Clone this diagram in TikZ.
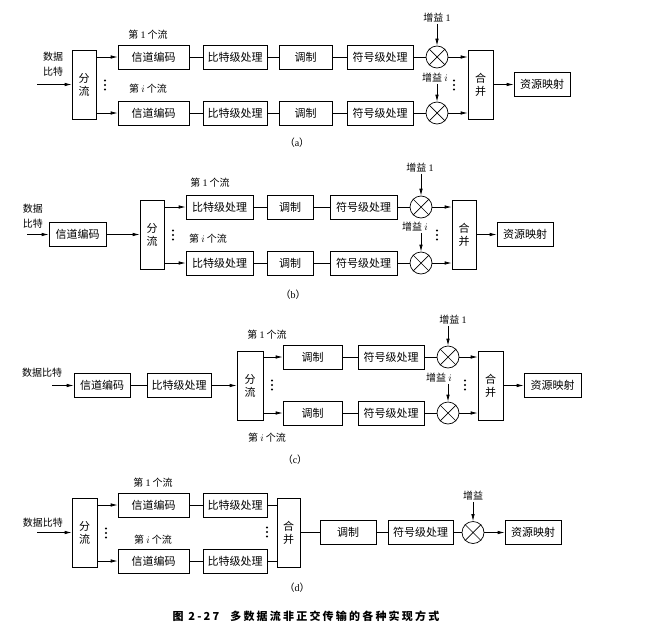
\documentclass[tikz,border=0pt]{standalone}
\usepackage{fontspec}
\setmainfont{Liberation Serif}
\newfontfamily\cjk{Noto Sans CJK SC}
\newfontfamily\cjkcap{Noto Sans CJK SC}[LetterSpace=20]
\usepackage{tikz}
\usetikzlibrary{arrows.meta,positioning}

\begin{document}
\begin{tikzpicture}[x=1pt, y=-1pt, line width=0.7pt, >={Latex[length=7pt,width=3.5pt]}]
    \useasboundingbox (0,0) rectangle (650,634);
    \tikzset{blk/.style={draw, inner sep=0pt, minimum height=24pt, font=\cjk\fontsize{11}{13}\selectfont}}
    \tikzset{tall/.style={draw, inner sep=0pt, minimum width=24pt, minimum height=69pt, align=center, font=\cjk\fontsize{11}{13}\selectfont}}
    \tikzset{mul/.style={circle, draw, inner sep=0pt, minimum size=22pt}}
    \tikzset{lbl/.style={inner sep=1pt, font=\cjk\fontsize{10}{15}\selectfont}}
    \def\tridots#1{\fill (#1) ++(0,-4.5) circle (1.1pt) (#1) circle (1.1pt) (#1) ++(0,4.5) circle (1.1pt);}

    % PANEL (a)
    \node[lbl, align=center] (inA) at (53,64.5) {数据\\比特};
    \coordinate (srcA) at (37,84.5);
    \node[tall] (splA) at (84,84.5) {分\\流};
    \node[tall, minimum width=25pt] (mrgA) at (480.5,84.5) {合\\并};
    \node[blk, minimum width=56pt] (resA) at (542,84.5) {资源映射};
    \foreach \k/\y in {1/57, 2/113} {
        \node[blk, minimum width=71pt] (chA\k) at (153.5,\y) {信道编码};
        \node[blk, minimum width=64pt] (bitA\k) at (235,\y) {比特级处理};
        \node[blk, minimum width=53pt] (modA\k) at (305.5,\y) {调制};
        \node[blk, minimum width=66pt] (symA\k) at (380,\y) {符号级处理};
        \node[mul] (mulA\k) at (437,\y) {};
        \draw (mulA\k.45) -- (mulA\k.225) (mulA\k.135) -- (mulA\k.315);
        \draw[->] (splA.east |- chA\k) -- (chA\k);
        \draw (chA\k) -- (bitA\k) -- (modA\k) -- (symA\k) -- (mulA\k);
        \draw[->] (mulA\k) -- (mrgA.west |- mulA\k);
    }
    \draw[->] (srcA) -- (splA);
    \draw[->] (mrgA) -- (resA);
    \node[lbl] (s1A) at (148,35) {第 {\rmfamily 1} 个流};
    \node[lbl] (siA) at (148,89) {第 $i$ 个流};
    \node[lbl] (g1A) at (437,18) {增益 {\rmfamily 1}};
    \node[lbl] (giA) at (435,78) {增益 $i$};
    \draw[->] (g1A.south -| mulA1) -- (mulA1);
    \draw[->] (giA.south -| mulA2) -- (mulA2);
    \coordinate (vA1) at (105,85);
    \coordinate (vA2) at (454,85);
    \tridots{vA1} \tridots{vA2}
    \node[lbl] (capA) at (297,143) {（{\rmfamily a}）};

    % PANEL (b)
    \node[lbl, align=center] (inB) at (33,216) {数据\\比特};
    \coordinate (srcB) at (27,234.5);
    \node[blk, minimum width=57pt] (chB) at (77.5,234.5) {信道编码};
    \node[tall] (splB) at (152,234.5) {分\\流};
    \node[tall] (mrgB) at (464,234.5) {合\\并};
    \node[blk, minimum width=56pt] (resB) at (525,234.5) {资源映射};
    \foreach \k/\y in {1/207, 2/263} {
        \node[blk, minimum width=67pt] (bitB\k) at (219.5,\y) {比特级处理};
        \node[blk, minimum width=46pt] (modB\k) at (290,\y) {调制};
        \node[blk, minimum width=67pt] (symB\k) at (363.5,\y) {符号级处理};
        \node[mul] (mulB\k) at (421,\y) {};
        \draw (mulB\k.45) -- (mulB\k.225) (mulB\k.135) -- (mulB\k.315);
        \draw[->] (splB.east |- bitB\k) -- (bitB\k);
        \draw (bitB\k) -- (modB\k) -- (symB\k) -- (mulB\k);
        \draw[->] (mulB\k) -- (mrgB.west |- mulB\k);
    }
    \draw[->] (srcB) -- (chB);
    \draw[->] (chB) -- (splB);
    \draw[->] (mrgB) -- (resB);
    \node[lbl] (s1B) at (210,183) {第 {\rmfamily 1} 个流};
    \node[lbl] (siB) at (208,239) {第 $i$ 个流};
    \node[lbl] (g1B) at (420,168) {增益 {\rmfamily 1}};
    \node[lbl] (giB) at (415,227) {增益 $i$};
    \draw[->] (g1B.south -| mulB1) -- (mulB1);
    \draw[->] (giB.south -| mulB2) -- (mulB2);
    \coordinate (vB1) at (173,235);
    \coordinate (vB2) at (437,235);
    \tridots{vB1} \tridots{vB2}
    \node[lbl] (capB) at (293,295) {（{\rmfamily b}）};

    % PANEL (c)
    \node[lbl] (inC) at (42,373) {数据比特};
    \coordinate (srcC) at (52,385.5);
    \node[blk, minimum width=56pt] (chC) at (102,385.5) {信道编码};
    \node[blk, minimum width=64pt] (bitC) at (179,385.5) {比特级处理};
    \node[tall, minimum width=26pt] (splC) at (250,385.5) {分\\流};
    \node[tall, minimum width=25pt] (mrgC) at (490.5,385.5) {合\\并};
    \node[blk, minimum width=57pt] (resC) at (552.5,385.5) {资源映射};
    \foreach \k/\y in {1/357, 2/413} {
        \node[blk, minimum width=59pt] (modC\k) at (312.5,\y) {调制};
        \node[blk, minimum width=66pt] (symC\k) at (391,\y) {符号级处理};
        \node[mul] (mulC\k) at (448,\y) {};
        \draw (mulC\k.45) -- (mulC\k.225) (mulC\k.135) -- (mulC\k.315);
        \draw[->] (splC.east |- modC\k) -- (modC\k);
        \draw (modC\k) -- (symC\k) -- (mulC\k);
        \draw[->] (mulC\k) -- (mrgC.west |- mulC\k);
    }
    \draw[->] (srcC) -- (chC);
    \draw (chC) -- (bitC);
    \draw[->] (bitC) -- (splC);
    \draw[->] (mrgC) -- (resC);
    \node[lbl] (s1C) at (267,335) {第 {\rmfamily 1} 个流};
    \node[lbl] (siC) at (267,438) {第 $i$ 个流};
    \node[lbl] (g1C) at (453,320) {增益 {\rmfamily 1}};
    \node[lbl] (giC) at (439,378) {增益 $i$};
    \draw[->] (g1C.south -| mulC1) -- (mulC1);
    \draw[->] (giC.south -| mulC2) -- (mulC2);
    \coordinate (vC1) at (272,385);
    \coordinate (vC2) at (465,385);
    \tridots{vC1} \tridots{vC2}
    \node[lbl] (capC) at (295,460) {（{\rmfamily c}）};

    % PANEL (d)
    \node[lbl] (inD) at (43,523) {数据比特};
    \coordinate (srcD) at (37,532.5);
    \node[tall, minimum width=25pt] (splD) at (84.5,532.5) {分\\流};
    \node[tall, minimum width=23pt] (mrgD) at (288.5,532.5) {合\\并};
    \node[blk, minimum width=56pt] (modD) at (348,532.5) {调制};
    \node[blk, minimum width=65pt] (symD) at (420.5,532.5) {符号级处理};
    \node[mul] (mulD) at (473,532.5) {};
    \draw (mulD.45) -- (mulD.225) (mulD.135) -- (mulD.315);
    \node[blk, minimum width=56pt] (resD) at (533,532.5) {资源映射};
    \foreach \k/\y in {1/505, 2/561} {
        \node[blk, minimum width=71pt] (chD\k) at (153.5,\y) {信道编码};
        \node[blk, minimum width=64pt] (bitD\k) at (235,\y) {比特级处理};
        \draw[->] (splD.east |- chD\k) -- (chD\k);
        \draw (chD\k) -- (bitD\k) -- (mrgD.west |- bitD\k);
    }
    \draw[->] (srcD) -- (splD);
    \draw (mrgD) -- (modD) -- (symD) -- (mulD);
    \draw[->] (mulD) -- (resD);
    \node[lbl] (gD) at (473,496) {增益};
    \draw[->] (gD) -- (mulD);
    \node[lbl] (s1D) at (153,483) {第 {\rmfamily 1} 个流};
    \node[lbl] (siD) at (153,540) {第 $i$ 个流};
    \coordinate (vD1) at (106,533);
    \coordinate (vD2) at (267,532);
    \tridots{vD1} \tridots{vD2}
    \node[lbl] (capD) at (297,588) {（{\rmfamily d}）};

    % FIGURE CAPTION
    \node[inner sep=0pt, font=\cjkcap\bfseries\fontsize{11}{13}\selectfont] (fig) at (306,616) {图 2-27\quad 多数据流非正交传输的各种实现方式};
\end{tikzpicture}
\end{document}
